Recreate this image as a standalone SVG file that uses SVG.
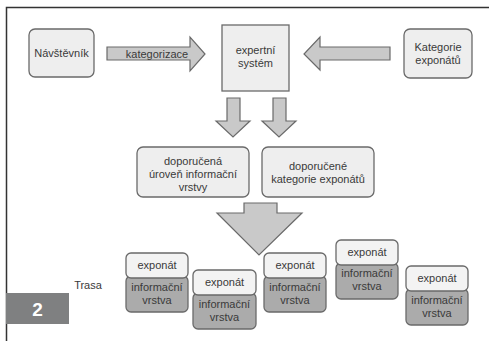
<svg xmlns="http://www.w3.org/2000/svg" width="489" height="341" viewBox="0 0 489 341">
<style>
.box{fill:#eeeeee;stroke:#6a6a6a;stroke-width:1.3}
.arr{fill:#c9c9c9;stroke:#6a6a6a;stroke-width:1.2;stroke-linejoin:miter}
.exp{fill:#f3f3f3;stroke:#6a6a6a;stroke-width:1.3}
.inf{fill:#ababab;stroke:#6a6a6a;stroke-width:1.3}
text{font-family:"Liberation Sans",Arial,sans-serif;font-size:11px;fill:#3a3a3a;text-anchor:middle}
</style>
<rect width="489" height="341" fill="#ffffff"/>
<path d="M6.5 341 V7.5 H489" fill="none" stroke="#333" stroke-width="1.5"/>
<g id="connectors">
<path class="arr" d="M107 47 H190 V37 L205 54 L190 71 V60 H107 Z"/>
<path class="arr" d="M390 47 H320 V37 L304 54 L320 70 V60 H390 Z"/>
<path class="arr" d="M227 98 H240 V121 H250 L233 137 L216 121 H227 Z"/>
<path class="arr" d="M273 98 H286 V121 H296 L279 137 L262 121 H273 Z"/>
<path class="arr" d="M244 203 H277 V213 H302 L259 255 L217 213 H244 Z"/>
<text x="157" y="58">kategorizace</text>
</g>
<g id="navstevnik">
<rect class="box" x="29" y="29" width="65" height="48" rx="6"/>
<text x="61.5" y="57">Návštěvník</text>
</g>
<g id="expertni-system">
<rect class="box" x="222" y="25" width="67" height="66"/>
<text x="255.5" y="54">expertní</text>
<text x="255.5" y="67">systém</text>
</g>
<g id="kategorie-exponatu">
<rect class="box" x="404" y="29" width="68" height="49" rx="6"/>
<text x="438" y="51">Kategorie</text>
<text x="438" y="64">exponátů</text>
</g>
<g id="doporucena-uroven">
<rect class="box" x="137" y="147" width="112" height="50" rx="6"/>
<text x="193" y="165">doporučená</text>
<text x="193" y="178">úroveň informační</text>
<text x="193" y="191">vrstvy</text>
</g>
<g id="doporucene-kategorie">
<rect class="box" x="262" y="147" width="112" height="50" rx="6"/>
<text x="318" y="170">doporučené</text>
<text x="318" y="183">kategorie exponátů</text>
</g>
<g id="trasa">
<text x="88" y="289">Trasa</text>
</g>
<g id="node1">
<rect class="inf" x="126" y="276" width="62" height="36" rx="5"/>
<rect class="exp" x="126" y="253" width="62" height="25" rx="5"/>
<text x="157" y="269">exponát</text>
<text x="157" y="291">informační</text>
<text x="157" y="304">vrstva</text>
</g>
<g id="node2">
<rect class="inf" x="193" y="293" width="63" height="36" rx="5"/>
<rect class="exp" x="193" y="270" width="63" height="25" rx="5"/>
<text x="224.5" y="286">exponát</text>
<text x="224.5" y="308">informační</text>
<text x="224.5" y="321">vrstva</text>
</g>
<g id="node3">
<rect class="inf" x="264" y="276" width="62" height="36" rx="5"/>
<rect class="exp" x="264" y="253" width="62" height="25" rx="5"/>
<text x="295" y="269">exponát</text>
<text x="295" y="291">informační</text>
<text x="295" y="304">vrstva</text>
</g>
<g id="node4">
<rect class="inf" x="336" y="263" width="62" height="36" rx="5"/>
<rect class="exp" x="336" y="240" width="62" height="25" rx="5"/>
<text x="367" y="256">exponát</text>
<text x="367" y="277">informační</text>
<text x="367" y="290">vrstva</text>
</g>
<g id="node5">
<rect class="inf" x="406" y="289" width="62" height="36" rx="5"/>
<rect class="exp" x="406" y="266" width="62" height="25" rx="5"/>
<text x="437" y="282">exponát</text>
<text x="437" y="304">informační</text>
<text x="437" y="317">vrstva</text>
</g>
<g id="label-2">
<rect x="6" y="293" width="63" height="31" fill="#7f8081"/>
<text x="37.5" y="316" style="font-size:19px;font-weight:bold;fill:#ffffff">2</text>
</g>
</svg>
